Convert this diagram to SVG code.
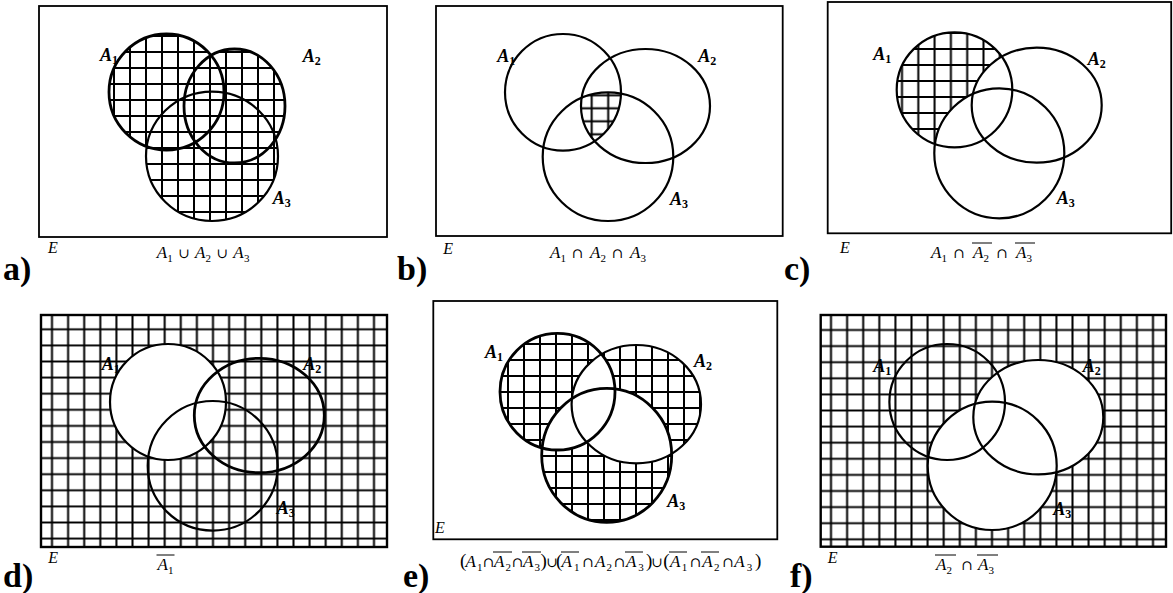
<svg xmlns="http://www.w3.org/2000/svg" xmlns:xlink="http://www.w3.org/1999/xlink" width="1173" height="593" viewBox="0 0 1173 593">
<style>
.bd{fill:none;stroke:#000;stroke-width:1.8}
.bk{stroke-width:2.4}
.c{fill:none;stroke:#000;stroke-width:2.2}
.ck{stroke-width:2.8}
.lbl{font-family:"Liberation Serif","Times New Roman",serif;font-weight:bold;font-style:italic;font-size:18px}
.sub{font-style:normal;font-size:12px}
.E{font-family:"Liberation Serif","Times New Roman",serif;font-style:italic;font-size:16px}
.f{font-family:"Liberation Serif","Times New Roman",serif;font-style:italic;font-size:17px}
.fs{font-style:normal;font-size:11px}
.op{font-style:normal;font-family:"DejaVu Serif",serif;font-size:14px}
.pr{font-style:normal;font-size:19px}
.pl{font-family:"Liberation Serif","Times New Roman",serif;font-weight:bold;font-size:34px}
.ol{stroke:#000;stroke-width:1}
</style>
<defs>
<pattern id="pa" patternUnits="userSpaceOnUse" x="122" y="44" width="16" height="16"><path d="M0 8H16M8 0V16" stroke="#000" stroke-width="2"/></pattern>
<pattern id="pb" patternUnits="userSpaceOnUse" x="583.45" y="88.8" width="16.5" height="13"><path d="M0 6.5H16.5M8.25 0V13" stroke="#000" stroke-width="2"/></pattern>
<pattern id="pc" patternUnits="userSpaceOnUse" x="910.15" y="41" width="16.3" height="16"><path d="M0 8H16.3M8.15 0V16" stroke="#000" stroke-width="2"/></pattern>
<pattern id="pd" patternUnits="userSpaceOnUse" x="43.95" y="321.25" width="16.1" height="16.1"><path d="M0 8.05H16.1M8.05 0V16.1" stroke="#000" stroke-width="2"/></pattern>
<pattern id="pe" patternUnits="userSpaceOnUse" x="500" y="352" width="16" height="16"><path d="M0 8H16M8 0V16" stroke="#000" stroke-width="2"/></pattern>
<pattern id="pf" patternUnits="userSpaceOnUse" x="822.95" y="321.95" width="16.1" height="16.1"><path d="M0 8.05H16.1M8.05 0V16.1" stroke="#000" stroke-width="2"/></pattern>

<ellipse id="a1" cx="166.5" cy="92" rx="57.5" ry="58"/>
<ellipse id="a2" cx="234.5" cy="106" rx="50.5" ry="57"/>
<ellipse id="a3" cx="212" cy="156.3" rx="66" ry="64.7"/>
<ellipse id="b1" cx="563" cy="92.3" rx="58" ry="58.3"/>
<ellipse id="b2" cx="645.5" cy="106" rx="64.5" ry="57"/>
<ellipse id="b3" cx="608" cy="156.7" rx="65.3" ry="64.3"/>
<ellipse id="c1" cx="954.5" cy="89.8" rx="57.8" ry="57.5"/>
<ellipse id="c2" cx="1036.7" cy="105.2" rx="65" ry="57.5"/>
<ellipse id="c3" cx="999.3" cy="153.3" rx="65" ry="65"/>
<ellipse id="d1" cx="168" cy="402" rx="58" ry="58"/>
<ellipse id="d2" cx="259.3" cy="415.5" rx="65" ry="57.2"/>
<ellipse id="d3" cx="212.7" cy="465.8" rx="65" ry="64.8"/>
<ellipse id="e1" cx="557.5" cy="391.7" rx="57.5" ry="58.3"/>
<ellipse id="e2" cx="636.3" cy="404.2" rx="64.7" ry="59.2"/>
<ellipse id="e3" cx="606.7" cy="455.3" rx="65" ry="67"/>
<ellipse id="f1" cx="947.2" cy="402" rx="57.8" ry="58"/>
<ellipse id="f2" cx="1038.3" cy="417.2" rx="65" ry="57.2"/>
<ellipse id="f3" cx="992.2" cy="465.8" rx="64.5" ry="64.2"/>

<clipPath id="ka"><use xlink:href="#a1"/><use xlink:href="#a2"/><use xlink:href="#a3"/></clipPath>
<clipPath id="kb1"><use xlink:href="#b1"/></clipPath>
<clipPath id="kb2"><use xlink:href="#b2"/></clipPath>
<mask id="me1" maskUnits="userSpaceOnUse" x="0" y="0" width="1173" height="593"><use xlink:href="#e1" fill="#fff"/><use xlink:href="#e2" fill="#000"/><use xlink:href="#e3" fill="#000"/></mask>
<mask id="me2" maskUnits="userSpaceOnUse" x="0" y="0" width="1173" height="593"><use xlink:href="#e2" fill="#fff"/><use xlink:href="#e1" fill="#000"/><use xlink:href="#e3" fill="#000"/></mask>
<mask id="me3" maskUnits="userSpaceOnUse" x="0" y="0" width="1173" height="593"><use xlink:href="#e3" fill="#fff"/><use xlink:href="#e1" fill="#000"/><use xlink:href="#e2" fill="#000"/></mask>
</defs>
<rect width="1173" height="593" fill="#fff"/>

<!-- Panel a -->
<g id="panel-a">
<rect x="39" y="6" width="348" height="231" class="bd"/>
<rect x="100" y="30" width="190" height="195" fill="url(#pa)" clip-path="url(#ka)"/>
<g id="a-set1"><use xlink:href="#a1" class="c ck"/><text class="lbl" x="100" y="61">A<tspan class="sub" dy="3">1</tspan></text></g>
<g id="a-set2"><use xlink:href="#a2" class="c ck"/><text class="lbl" x="302.7" y="62">A<tspan class="sub" dy="3">2</tspan></text></g>
<g id="a-set3"><use xlink:href="#a3" class="c"/><text class="lbl" x="272.7" y="204">A<tspan class="sub" dy="3">3</tspan></text></g>
<text class="E" x="48" y="253">E</text>
<text class="f" y="258"><tspan x="156.7">A</tspan><tspan class="fs" x="167.3" y="262">1</tspan><tspan class="op" x="178" y="258">∪</tspan><tspan x="195">A</tspan><tspan class="fs" x="205.6" y="262">2</tspan><tspan class="op" x="216.3" y="258">∪</tspan><tspan x="233.3">A</tspan><tspan class="fs" x="244" y="262">3</tspan></text>
<text class="pl" x="3" y="280">a)</text>
</g>

<!-- Panel b -->
<g id="panel-b">
<rect x="436" y="6" width="346.7" height="230" class="bd"/>
<g clip-path="url(#kb1)"><g clip-path="url(#kb2)"><use xlink:href="#b3" fill="url(#pb)"/></g></g>
<g id="b-set1"><use xlink:href="#b1" class="c"/><text class="lbl" x="497.3" y="61.5">A<tspan class="sub" dy="3">1</tspan></text></g>
<g id="b-set2"><use xlink:href="#b2" class="c"/><text class="lbl" x="698.3" y="62">A<tspan class="sub" dy="3">2</tspan></text></g>
<g id="b-set3"><use xlink:href="#b3" class="c"/><text class="lbl" x="670" y="204.5">A<tspan class="sub" dy="3">3</tspan></text></g>
<text class="E" x="443.3" y="254">E</text>
<text class="f" y="258"><tspan x="550">A</tspan><tspan class="fs" x="560.6" y="262">1</tspan><tspan class="op" x="571.5" y="258">∩</tspan><tspan x="590">A</tspan><tspan class="fs" x="600.6" y="262">2</tspan><tspan class="op" x="611.5" y="258">∩</tspan><tspan x="630">A</tspan><tspan class="fs" x="640.6" y="262">3</tspan></text>
<text class="pl" x="397" y="280">b)</text>
</g>

<!-- Panel c -->
<g id="panel-c">
<rect x="827.7" y="2" width="343.5" height="231.3" class="bd"/>
<use xlink:href="#c1" fill="url(#pc)"/>
<use xlink:href="#c2" fill="#fff"/>
<use xlink:href="#c3" fill="#fff"/>
<g id="c-set1"><use xlink:href="#c1" class="c"/><text class="lbl" x="873.3" y="60">A<tspan class="sub" dy="3">1</tspan></text></g>
<g id="c-set2"><use xlink:href="#c2" class="c"/><text class="lbl" x="1087.7" y="64.5">A<tspan class="sub" dy="3">2</tspan></text></g>
<g id="c-set3"><use xlink:href="#c3" class="c"/><text class="lbl" x="1056.7" y="203.5">A<tspan class="sub" dy="3">3</tspan></text></g>
<text class="E" x="840" y="253">E</text>
<text class="f" y="258"><tspan x="931">A</tspan><tspan class="fs" x="941.6" y="262">1</tspan><tspan class="op" x="953" y="258">∩</tspan><tspan x="973">A</tspan><tspan class="fs" x="983.6" y="262">2</tspan><tspan class="op" x="996" y="258">∩</tspan><tspan x="1016">A</tspan><tspan class="fs" x="1026.6" y="262">3</tspan></text>
<line class="ol" x1="972" y1="243" x2="992" y2="243"/>
<line class="ol" x1="1015" y1="243" x2="1035" y2="243"/>
<text class="pl" x="784" y="280">c)</text>
</g>

<!-- Panel d -->
<g id="panel-d">
<rect x="41" y="315" width="346" height="232" fill="url(#pd)"/>
<use xlink:href="#d1" fill="#fff"/>
<rect x="41" y="315" width="346" height="232" class="bd bk"/>
<g id="d-set1"><use xlink:href="#d1" class="c"/><text class="lbl" x="101.7" y="370">A<tspan class="sub" dy="3">1</tspan></text></g>
<g id="d-set2"><use xlink:href="#d2" class="c ck"/><text class="lbl" x="303.3" y="370">A<tspan class="sub" dy="3">2</tspan></text></g>
<g id="d-set3"><use xlink:href="#d3" class="c"/><text class="lbl" x="276.7" y="514">A<tspan class="sub" dy="3">3</tspan></text></g>
<text class="E" x="48.3" y="563">E</text>
<text class="f" y="570"><tspan x="157.5">A</tspan><tspan class="fs" x="168" y="574">1</tspan></text>
<line class="ol" x1="156.5" y1="555" x2="174.5" y2="555"/>
<text class="pl" x="3" y="587">d)</text>
</g>

<!-- Panel e -->
<g id="panel-e">
<rect x="433.3" y="301" width="344" height="238.3" class="bd"/>
<rect x="490" y="325" width="220" height="205" fill="url(#pe)" mask="url(#me1)"/>
<rect x="490" y="325" width="220" height="205" fill="url(#pe)" mask="url(#me2)"/>
<rect x="490" y="325" width="220" height="205" fill="url(#pe)" mask="url(#me3)"/>
<g id="e-set1"><use xlink:href="#e1" class="c ck"/><text class="lbl" x="485" y="358">A<tspan class="sub" dy="3">1</tspan></text></g>
<g id="e-set2"><use xlink:href="#e2" class="c"/><text class="lbl" x="694" y="366.7">A<tspan class="sub" dy="3">2</tspan></text></g>
<g id="e-set3"><use xlink:href="#e3" class="c ck"/><text class="lbl" x="667.3" y="506.7">A<tspan class="sub" dy="3">3</tspan></text></g>
<text class="E" x="435" y="533">E</text>
<text class="f" y="567"><tspan class="pr" x="460">(</tspan><tspan x="465.5">A</tspan><tspan class="fs" x="477" y="571">1</tspan><tspan class="op" x="482.5" y="567">∩</tspan><tspan x="494">A</tspan><tspan class="fs" x="505.5" y="571">2</tspan><tspan class="op" x="511.5" y="567">∩</tspan><tspan x="523">A</tspan><tspan class="fs" x="534.5" y="571">3</tspan><tspan class="pr" x="540.5" y="567">)</tspan><tspan class="op" x="546">∪</tspan><tspan class="pr" x="556">(</tspan><tspan x="561.5">A</tspan><tspan class="fs" x="574" y="571">1</tspan><tspan class="op" x="582" y="567">∩</tspan><tspan x="595">A</tspan><tspan class="fs" x="606.5" y="571">2</tspan><tspan class="op" x="613.5" y="567">∩</tspan><tspan x="626">A</tspan><tspan class="fs" x="638.3" y="571">3</tspan><tspan class="pr" x="646" y="567">)</tspan><tspan class="op" x="651">∪</tspan><tspan class="pr" x="663.3">(</tspan><tspan x="670">A</tspan><tspan class="fs" x="681.7" y="571">1</tspan><tspan class="op" x="689.5" y="567">∩</tspan><tspan x="702.3">A</tspan><tspan class="fs" x="714" y="571">2</tspan><tspan class="op" x="722" y="567">∩</tspan><tspan x="734.3">A</tspan><tspan class="fs" x="746.7" y="571">3</tspan><tspan class="pr" x="755" y="567">)</tspan></text>
<line class="ol" x1="493" y1="552" x2="512" y2="552"/>
<line class="ol" x1="522" y1="552" x2="541" y2="552"/>
<line class="ol" x1="561" y1="552" x2="579" y2="552"/>
<line class="ol" x1="625" y1="552" x2="643" y2="552"/>
<line class="ol" x1="669" y1="552" x2="687" y2="552"/>
<line class="ol" x1="701" y1="552" x2="719" y2="552"/>
<text class="pl" x="403" y="587">e)</text>
</g>

<!-- Panel f -->
<g id="panel-f">
<rect x="820.7" y="315" width="345.3" height="231.7" fill="url(#pf)"/>
<use xlink:href="#f2" fill="#fff"/>
<use xlink:href="#f3" fill="#fff"/>
<rect x="820.7" y="315" width="345.3" height="231.7" class="bd bk"/>
<g id="f-set1"><use xlink:href="#f1" class="c"/><text class="lbl" x="873.3" y="371.7">A<tspan class="sub" dy="3">1</tspan></text></g>
<g id="f-set2"><use xlink:href="#f2" class="c"/><text class="lbl" x="1082.7" y="371.7">A<tspan class="sub" dy="3">2</tspan></text></g>
<g id="f-set3"><use xlink:href="#f3" class="c"/><text class="lbl" x="1053.3" y="515">A<tspan class="sub" dy="3">3</tspan></text></g>
<text class="E" x="827.7" y="563">E</text>
<text class="f" y="570"><tspan x="936">A</tspan><tspan class="fs" x="946.6" y="574">2</tspan><tspan class="op" x="961" y="570">∩</tspan><tspan x="978">A</tspan><tspan class="fs" x="988.6" y="574">3</tspan></text>
<line class="ol" x1="935" y1="555" x2="956" y2="555"/>
<line class="ol" x1="977" y1="555" x2="998" y2="555"/>
<text class="pl" x="790" y="587">f)</text>
</g>
</svg>
